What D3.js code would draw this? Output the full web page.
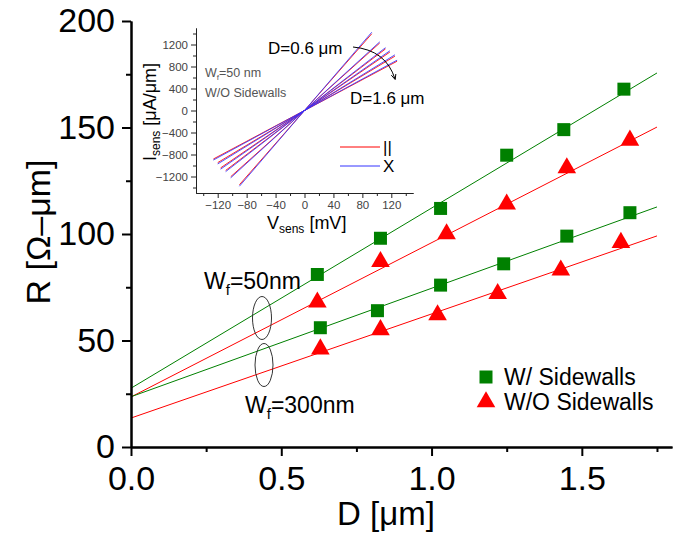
<!DOCTYPE html>
<html>
<head>
<meta charset="utf-8">
<script src="https://cdn.jsdelivr.net/npm/d3@7"></script>
<style>
  body { margin: 0; background: #fff; }
  svg { display: block; font-family: Arial, "Liberation Sans", sans-serif; }
</style>
</head>
<body>
<div id="chart"></div>
<script>
// main panel: R vs D, four series
const wsD50 = [0.62, 0.83, 1.03, 1.25, 1.44, 1.64];
const wsR50 = [81, 98, 112, 137, 149, 168];
const woD50 = [0.62, 0.83, 1.05, 1.25, 1.45, 1.66];
const woR50 = [68, 87, 100, 114, 131, 144];
const wsD300 = [0.63, 0.82, 1.03, 1.24, 1.45, 1.66];
const wsR300 = [56, 64, 76, 86, 99, 110];
const woD300 = [0.63, 0.83, 1.02, 1.22, 1.43, 1.63];
const woR300 = [46, 55, 62, 72, 83, 96];

// linear fits, read at D = 0 and D = 1.75
const fitD = [0, 1.75];
const fitWs50 = [27.6, 175.6];
const fitWo50 = [23.5, 150.2];
const fitWs300 = [23.6, 112.7];
const fitWo300 = [13.6, 99.1];

const xTicks = [0, 0.5, 1.0, 1.5];
const xMinor = [0.25, 0.75, 1.25, 1.75];
const yTicks = [0, 50, 100, 150, 200];
const yMinor = [25, 75, 125, 175];

// inset: I-V lines, one per D (0.6 um .. 1.6 um)
const insetSlopePar = [15.0, 11.8, 10.0, 9.0, 7.9, 7.0];
const insetSlopePerp = [15.3, 12.0, 10.2, 9.2, 8.1, 7.15];
const insetVmin = [-90, -102, -109, -116, -120, -126];
const insetVmax = [93, 104, 112, 118, 125, 128];
const insetXTicks = [-120, -80, -40, 0, 40, 80, 120];
const insetXMinor = [-140, -100, -60, -20, 20, 60, 100, 140];
const insetYTicks = [-1200, -800, -400, 0, 400, 800, 1200];
const insetYMinor = [-1400, -1000, -600, -200, 200, 600, 1000, 1400];

const width = 683, height = 533;

const svg = d3.select("#chart").append("svg")
    .attr("width", width)
    .attr("height", height)
    .attr("viewBox", [0, 0, width, height]);

const x = d3.scaleLinear([0, 1.8], [131, 672]);
const y = d3.scaleLinear([0, 200], [447, 21]);

const line = d3.line().x(d => x(d[0])).y(d => y(d[1]));

// fit lines
const fits = [
  {r: fitWs50, color: "#008000"},
  {r: fitWo50, color: "#ff0000"},
  {r: fitWs300, color: "#008000"},
  {r: fitWo300, color: "#ff0000"}
];
svg.append("g")
    .attr("fill", "none")
  .selectAll("path")
  .data(fits)
  .join("path")
    .attr("d", f => line(fitD.map((d, i) => [d, f.r[i]])))
    .attr("stroke", f => f.color)
    .attr("stroke-width", 1);

// markers
const square = d3.symbol(d3.symbolSquare, 169)();
const triangle = d3.symbol(d3.symbolTriangle, 150)();
const series = [
  {d: wsD50, r: wsR50, shape: square, color: "#008000"},
  {d: woD50, r: woR50, shape: triangle, color: "#ff0000"},
  {d: wsD300, r: wsR300, shape: square, color: "#008000"},
  {d: woD300, r: woR300, shape: triangle, color: "#ff0000"}
];
for (const s of series) {
  svg.append("g")
    .selectAll("path")
    .data(s.d.map((d, i) => [d, s.r[i]]))
    .join("path")
      .attr("transform", d => `translate(${x(d[0])},${y(d[1])})`)
      .attr("d", s.shape)
      .attr("fill", s.color);
}

// axes
const gx = svg.append("g").attr("transform", `translate(0,${y(0)})`);
gx.call(d3.axisBottom(x).tickValues(xTicks).tickFormat(d3.format(".1f")).tickSize(9).tickSizeOuter(0).tickPadding(10));
gx.append("g").call(d3.axisBottom(x).tickValues(xMinor).tickFormat("").tickSize(5).tickSizeOuter(0));
const gy = svg.append("g").attr("transform", `translate(${x(0)},0)`);
gy.call(d3.axisLeft(y).tickValues(yTicks).tickSize(9).tickSizeOuter(0).tickPadding(7));
gy.append("g").call(d3.axisLeft(y).tickValues(yMinor).tickFormat("").tickSize(5).tickSizeOuter(0));
svg.selectAll(".domain, .tick line").attr("stroke", "#000").attr("stroke-width", 2);
[gx, gy].forEach(g => g.selectAll("text")
    .attr("font-size", 34)
    .attr("font-family", "Arial, 'Liberation Sans', sans-serif")
    .attr("fill", "#000"));

svg.append("text")
    .attr("x", 386).attr("y", 525)
    .attr("text-anchor", "middle")
    .attr("font-size", 33)
    .text("D [\u03bcm]");
svg.append("text")
    .attr("transform", "translate(50,232) rotate(-90)")
    .attr("text-anchor", "middle")
    .attr("font-size", 34)
    .text("R [\u03a9\u2013\u03bcm]");

// ellipses and W_f labels
svg.append("ellipse").attr("cx", 262).attr("cy", 318).attr("rx", 9.5).attr("ry", 21.5)
    .attr("fill", "none").attr("stroke", "#333").attr("stroke-width", 1);
svg.append("ellipse").attr("cx", 264).attr("cy", 365).attr("rx", 9).attr("ry", 21.5)
    .attr("fill", "none").attr("stroke", "#333").attr("stroke-width", 1);

function wfLabel(px, py, val) {
  const t = svg.append("text").attr("x", px).attr("y", py).attr("font-size", 23);
  t.append("tspan").text("W");
  t.append("tspan").attr("font-size", 15).attr("dy", 6).text("f");
  t.append("tspan").attr("dy", -6).text(`=${val}nm`);
}
wfLabel(204, 289, 50);
wfLabel(245, 413, 300);

// legend
const legend = svg.append("g");
legend.append("path").attr("transform", "translate(486,377)").attr("d", square).attr("fill", "#008000");
legend.append("path").attr("transform", "translate(486,402)").attr("d", triangle).attr("fill", "#ff0000");
legend.append("text").attr("x", 504).attr("y", 385).attr("font-size", 23).text("W/ Sidewalls");
legend.append("text").attr("x", 504).attr("y", 410).attr("font-size", 23).text("W/O Sidewalls");

// ---------- inset ----------
const ix = d3.scaleLinear([-150, 150], [196, 413]);
const iy = d3.scaleLinear([-1500, 1500], [193, 28]);
const inset = svg.append("g");

const ivLines = [];
insetSlopePar.forEach((k, i) => ivLines.push({k, i, color: "#ff0000"}));
insetSlopePerp.forEach((k, i) => ivLines.push({k, i, color: "#3333ff"}));
inset.append("g")
    .attr("fill", "none")
  .selectAll("path")
  .data(ivLines)
  .join("path")
    .attr("d", d => d3.line()([[ix(insetVmin[d.i]), iy(insetVmin[d.i] * d.k)], [ix(insetVmax[d.i]), iy(insetVmax[d.i] * d.k)]]))
    .attr("stroke", d => d.color)
    .attr("stroke-width", 1)
    .attr("stroke-opacity", 0.85);

const igx = inset.append("g").attr("transform", `translate(0,193)`);
igx.call(d3.axisBottom(ix).tickValues(insetXTicks).tickFormat(d3.format("d")).tickSize(5).tickSizeOuter(0).tickPadding(3));
igx.append("g").call(d3.axisBottom(ix).tickValues(insetXMinor).tickFormat("").tickSize(3).tickSizeOuter(0));
const igy = inset.append("g").attr("transform", `translate(196,0)`);
igy.call(d3.axisLeft(iy).tickValues(insetYTicks).tickFormat(d3.format("d")).tickSize(5).tickSizeOuter(0).tickPadding(3));
igy.append("g").call(d3.axisLeft(iy).tickValues(insetYMinor).tickFormat("").tickSize(3).tickSizeOuter(0));
[igx, igy].forEach(g => {
  g.selectAll(".domain, .tick line").attr("stroke", "#222").attr("stroke-width", 1);
  g.selectAll("text").attr("font-size", 11.5).attr("fill", "#444")
      .attr("font-family", "Arial, 'Liberation Sans', sans-serif");
});

const vt = inset.append("text").attr("x", 267).attr("y", 229).attr("font-size", 18);
vt.append("tspan").text("V");
vt.append("tspan").attr("font-size", 12).attr("dy", 4).text("sens");
vt.append("tspan").attr("dy", -4).text(" [mV]");

const it = inset.append("text").attr("transform", "translate(156,112) rotate(-90)")
    .attr("text-anchor", "middle").attr("font-size", 18);
it.append("tspan").text("I");
it.append("tspan").attr("font-size", 12).attr("dy", 4).text("sens");
it.append("tspan").attr("dy", -4).text(" [\u03bcA/\u03bcm]");

const wt = inset.append("text").attr("x", 205).attr("y", 77).attr("font-size", 12.5).attr("fill", "#555");
wt.append("tspan").text("W");
wt.append("tspan").attr("font-size", 8).attr("dy", 3).text("f");
wt.append("tspan").attr("dy", -3).text("=50 nm");
inset.append("text").attr("x", 205).attr("y", 97).attr("font-size", 12.5).attr("fill", "#555").text("W/O Sidewalls");

inset.append("text").attr("x", 268).attr("y", 54).attr("font-size", 17).text("D=0.6 \u03bcm");
inset.append("text").attr("x", 350).attr("y", 104).attr("font-size", 17).text("D=1.6 \u03bcm");

svg.append("defs").append("marker")
    .attr("id", "arr").attr("viewBox", "0 0 10 10").attr("refX", 8).attr("refY", 5)
    .attr("markerWidth", 6).attr("markerHeight", 6).attr("orient", "auto")
  .append("path").attr("d", "M0,1L9,5L0,9").attr("fill", "none").attr("stroke", "#000").attr("stroke-width", 1.5);
inset.append("path")
    .attr("d", "M353,47 Q386,50 395,79")
    .attr("fill", "none").attr("stroke", "#000").attr("stroke-width", 1)
    .attr("marker-end", "url(#arr)");

inset.append("line").attr("x1", 340).attr("x2", 380).attr("y1", 147).attr("y2", 147).attr("stroke", "#ff0000");
inset.append("line").attr("x1", 340).attr("x2", 380).attr("y1", 166).attr("y2", 166).attr("stroke", "#3333ff");
inset.append("text").attr("x", 383).attr("y", 153).attr("font-size", 17).text("||");
inset.append("text").attr("x", 383).attr("y", 172).attr("font-size", 17).text("X");
</script>
</body>
</html>
